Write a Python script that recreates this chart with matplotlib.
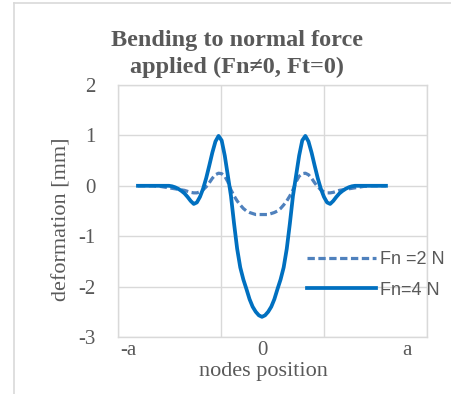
import matplotlib
matplotlib.use("Agg")
import matplotlib.pyplot as plt
from matplotlib.lines import Line2D

# node positions (normalised, -a .. a region of the curve)
x_nodes = [k * 0.025 for k in range(-40, 41)]

fn4 = [0, 0, 0, 0, 0, 0, 0, 0, 0, 0, 0,
       -0.01, -0.03, -0.06, -0.10, -0.15, -0.22, -0.30, -0.36, -0.33, -0.22,
       -0.06, 0.15, 0.40, 0.66, 0.88, 0.99, 0.90, 0.60, 0.20, -0.20,
       -0.75, -1.25, -1.62, -1.86, -2.05, -2.25, -2.40, -2.50, -2.57, -2.60,
       -2.57, -2.50, -2.40, -2.25, -2.05, -1.86, -1.62, -1.25, -0.75, -0.20,
       0.20, 0.60, 0.90, 0.99, 0.88, 0.66, 0.40, 0.15, -0.06, -0.22,
       -0.33, -0.36, -0.30, -0.22, -0.15, -0.10, -0.06, -0.03, -0.01, 0,
       0, 0, 0, 0, 0, 0, 0, 0, 0, 0]

fn2 = [0, 0, 0, 0, 0, 0, -0.01, -0.01, -0.02, -0.03, -0.04,
       -0.05, -0.06, -0.07, -0.08, -0.09, -0.11, -0.13, -0.14, -0.14, -0.12,
       -0.08, -0.02, 0.06, 0.15, 0.22, 0.25, 0.24, 0.19, 0.08, -0.08,
       -0.20, -0.30, -0.38, -0.45, -0.50, -0.53, -0.55, -0.57, -0.57, -0.57,
       -0.57, -0.57, -0.55, -0.53, -0.50, -0.45, -0.38, -0.30, -0.20, -0.08,
       0.08, 0.19, 0.24, 0.25, 0.22, 0.15, 0.06, -0.02, -0.08, -0.12,
       -0.14, -0.14, -0.13, -0.11, -0.09, -0.08, -0.07, -0.06, -0.05, -0.04,
       -0.03, -0.02, -0.01, -0.01, 0, 0, 0, 0, 0, 0]

series_labels = ["Fn =2 N", "Fn=4 N"]
x_tick_labels = ["-a", "0", "a"]
x_tick_pos = [-1.08, 0.0, 1.17]
y_ticks = [-3, -2, -1, 0, 1, 2]

title = "Bending to normal force\napplied (Fn\u22600, Ft=0)"

grey_txt = "#595959"
grid_c = "#d9d9d9"

fig = plt.figure(figsize=(4.51, 3.94), dpi=100)
ax = fig.add_axes([118/451, 1-337/394, 309/451, 252/394])

ax.set_xlim(-1.161, 1.331)
ax.set_ylim(-3, 2)

l2, = ax.plot(x_nodes, fn2, color="#4F81BD", lw=2.3, dashes=(2.3, 1.1), solid_capstyle="butt")
l4, = ax.plot(x_nodes, fn4, color="#0070C0", lw=2.7)

# grid
ax.set_yticks(y_ticks)
ax.set_xticks([-1.161, -0.331, 0.5, 1.331])
ax.set_xticklabels([])
ax.grid(True, color=grid_c, lw=1)
ax.set_axisbelow(True)
ax.tick_params(length=0)
for s in ax.spines.values():
    s.set_color(grid_c)
    s.set_linewidth(1)

ax.set_yticklabels([str(v) for v in y_ticks], family="Liberation Serif",
                   fontsize=15, color=grey_txt)
ax.tick_params(axis="y", pad=16)

for p, lab in zip(x_tick_pos, x_tick_labels):
    ax.text(p, -3.27, lab, ha="center", va="center", family="Liberation Serif",
            fontsize=15, color=grey_txt)

ax.text(0.01, -3.68, "nodes position", ha="center", va="center",
        family="Liberation Serif", fontsize=16, color=grey_txt)
fig.text(62/451, 1-219/394, "deformation [mm]", rotation=90, ha="center", va="center",
         family="Liberation Serif", fontsize=16, color=grey_txt)

fig.text(237/451, 1-54/394, title, ha="center", va="center", family="Liberation Serif",
         fontsize=17.5, fontweight="bold", color=grey_txt, linespacing=1.3)

leg = fig.legend([l2, l4], series_labels, loc="center left",
                 bbox_to_anchor=(291/451, 1-275/394), frameon=False,
                 prop={"family": "Liberation Sans", "size": 13},
                 labelcolor=grey_txt, handlelength=3.8, handletextpad=0.25,
                 labelspacing=0.75)

# outer chart frame
fig.add_artist(Line2D([14/451, 14/451], [0, 1-3/394], color=grid_c, lw=1.2))
fig.add_artist(Line2D([14/451, 1], [1-3/394, 1-3/394], color=grid_c, lw=1.2))

fig.savefig("out.png", dpi=100)
